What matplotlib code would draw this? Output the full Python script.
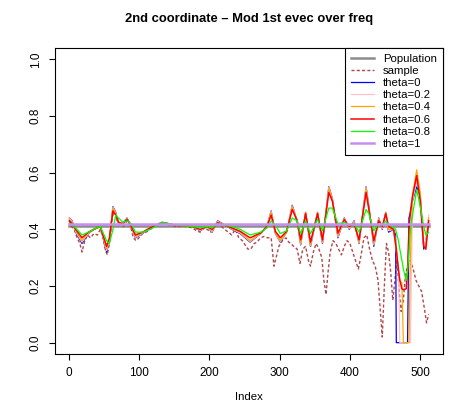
import matplotlib
matplotlib.use("Agg")
import matplotlib.pyplot as plt

plt.rcParams['font.family'] = ['Liberation Sans', 'DejaVu Sans']

# shared index grid for the theta curves
idx = [1, 5, 10, 19, 28, 36, 45, 54, 58, 63, 67, 71, 77, 83, 89, 95, 105, 116,
       125, 133, 142, 152, 164, 176, 187, 197, 204, 212, 223, 232, 244, 258,
       273, 282, 288, 294, 301, 310, 318, 325, 330, 337, 344, 354, 361, 370,
       375, 383, 392, 399, 406, 413, 423, 427, 434, 441, 446, 451, 455, 462,
       465, 466, 469, 471, 474, 476, 480, 482, 484, 486, 489, 495, 500, 505,
       508, 512]

theta0 = [0.44, 0.43, 0.39, 0.35, 0.385, 0.40, 0.41, 0.32, 0.36, 0.48, 0.46, 0.42,
          0.42, 0.44, 0.41, 0.37, 0.385, 0.405, 0.415, 0.425, 0.42, 0.414, 0.412,
          0.41, 0.395, 0.41, 0.39, 0.43, 0.414, 0.40, 0.385, 0.355, 0.385, 0.41,
          0.465, 0.385, 0.355, 0.39, 0.485, 0.43, 0.345, 0.46, 0.34, 0.46, 0.35,
          0.55, 0.51, 0.37, 0.44, 0.40, 0.43, 0.35, 0.55, 0.48, 0.34, 0.44, 0.40,
          0.46, 0.39, 0.40, 0.38, 0.0, 0.0, 0.0, 0.0, 0.0, 0.0, 0.0, 0.44, 0.46,
          0.50, 0.55, 0.52, 0.33, 0.36, 0.42]

theta02 = [0.44, 0.428, 0.392, 0.355, 0.386, 0.40, 0.41, 0.325, 0.362, 0.478, 0.458,
           0.421, 0.42, 0.438, 0.41, 0.372, 0.386, 0.405, 0.415, 0.425, 0.42, 0.414,
           0.412, 0.41, 0.396, 0.41, 0.392, 0.428, 0.414, 0.401, 0.387, 0.357, 0.385,
           0.41, 0.463, 0.386, 0.357, 0.39, 0.483, 0.43, 0.347, 0.46, 0.342, 0.46,
           0.352, 0.548, 0.508, 0.373, 0.438, 0.402, 0.428, 0.352, 0.548, 0.478,
           0.345, 0.438, 0.402, 0.46, 0.395, 0.40, 0.36, 0.33, 0.27, 0.0, 0.0, 0.0,
           0.0, 0.0, 0.0, 0.0, 0.50, 0.57, 0.52, 0.34, 0.36, 0.45]

theta04 = [0.435, 0.425, 0.395, 0.36, 0.388, 0.40, 0.41, 0.33, 0.365, 0.475, 0.455,
           0.423, 0.42, 0.437, 0.41, 0.375, 0.388, 0.405, 0.415, 0.424, 0.42, 0.414,
           0.412, 0.41, 0.398, 0.41, 0.395, 0.426, 0.414, 0.403, 0.39, 0.36, 0.386,
           0.41, 0.46, 0.388, 0.36, 0.39, 0.48, 0.43, 0.35, 0.46, 0.345, 0.46, 0.355,
           0.545, 0.505, 0.378, 0.437, 0.405, 0.425, 0.355, 0.545, 0.475, 0.35, 0.435,
           0.405, 0.46, 0.40, 0.40, 0.34, 0.32, 0.26, 0.22, 0.21, 0.0, 0.0, 0.0, 0.0,
           0.30, 0.52, 0.61, 0.53, 0.34, 0.34, 0.44]

theta06 = [0.43, 0.42, 0.40, 0.37, 0.39, 0.40, 0.41, 0.34, 0.37, 0.465, 0.45, 0.425,
           0.42, 0.435, 0.41, 0.38, 0.39, 0.405, 0.415, 0.423, 0.42, 0.414, 0.412,
           0.41, 0.40, 0.41, 0.40, 0.423, 0.414, 0.405, 0.393, 0.37, 0.387, 0.41,
           0.45, 0.393, 0.37, 0.393, 0.47, 0.43, 0.363, 0.455, 0.355, 0.455, 0.363,
           0.53, 0.50, 0.387, 0.434, 0.41, 0.42, 0.363, 0.53, 0.47, 0.36, 0.43, 0.41,
           0.455, 0.41, 0.40, 0.35, 0.33, 0.257, 0.22, 0.19, 0.187, 0.19, 0.26, 0.40,
           0.46, 0.516, 0.59, 0.50, 0.34, 0.33, 0.43]

theta08 = [0.42, 0.415, 0.405, 0.38, 0.39, 0.40, 0.41, 0.36, 0.35, 0.40, 0.45, 0.44,
           0.425, 0.43, 0.42, 0.39, 0.39, 0.40, 0.412, 0.425, 0.42, 0.415, 0.412,
           0.41, 0.405, 0.41, 0.405, 0.42, 0.414, 0.41, 0.40, 0.38, 0.39, 0.405,
           0.43, 0.415, 0.385, 0.395, 0.44, 0.43, 0.385, 0.43, 0.385, 0.435, 0.395,
           0.475, 0.475, 0.42, 0.425, 0.415, 0.42, 0.39, 0.47, 0.455, 0.395, 0.42,
           0.415, 0.43, 0.415, 0.41, 0.40, 0.39, 0.36, 0.33, 0.29, 0.26, 0.22, 0.25,
           0.32, 0.40, 0.45, 0.54, 0.48, 0.41, 0.38, 0.39]

theta1_idx = [1, 512]
theta1 = [0.418, 0.418]

pop_idx = [1, 512]
population = [0.41, 0.41]

sample_idx = [1, 4, 8, 12, 16, 19, 23, 27, 31, 36, 41, 45, 49, 52, 55, 58, 62, 65,
              69, 73, 78, 83, 88, 92, 96, 100, 105, 110, 116, 122, 128, 134, 140,
              146, 152, 160, 168, 176, 182, 187, 192, 197, 202, 207, 212, 217, 222,
              227, 232, 237, 242, 247, 251, 255, 259, 264, 268, 273, 278, 283, 288,
              292, 296, 299, 304, 309, 313, 316, 320, 325, 329, 333, 337, 341, 344,
              348, 352, 356, 360, 363, 366, 369, 372, 376, 380, 384, 388, 392, 396,
              400, 404, 408, 412, 416, 420, 424, 428, 432, 436, 440, 443, 446, 449,
              452, 455, 458, 461, 464, 467, 470, 473, 476, 479, 482, 486, 490, 494,
              498, 502, 506, 509, 512]
sample = [0.43, 0.41, 0.40, 0.37, 0.35, 0.32, 0.36, 0.38, 0.37, 0.385, 0.38, 0.40,
          0.37, 0.33, 0.31, 0.35, 0.44, 0.47, 0.43, 0.42, 0.41, 0.43, 0.41, 0.37,
          0.36, 0.37, 0.385, 0.39, 0.40, 0.41, 0.42, 0.425, 0.415, 0.415, 0.41,
          0.41, 0.41, 0.405, 0.395, 0.39, 0.405, 0.40, 0.39, 0.41, 0.42, 0.41, 0.40,
          0.39, 0.38, 0.40, 0.37, 0.36, 0.345, 0.33, 0.33, 0.35, 0.355, 0.37, 0.375,
          0.37, 0.37, 0.27, 0.31, 0.34, 0.36, 0.37, 0.355, 0.35, 0.34, 0.33, 0.28,
          0.33, 0.34, 0.29, 0.27, 0.32, 0.35, 0.33, 0.30, 0.22, 0.17, 0.25, 0.32,
          0.36, 0.35, 0.33, 0.31, 0.34, 0.36, 0.35, 0.32, 0.29, 0.26, 0.31, 0.37,
          0.38, 0.33, 0.29, 0.27, 0.22, 0.12, 0.02, 0.20, 0.35, 0.32, 0.25, 0.15,
          0.22, 0.30, 0.18, 0.11, 0.15, 0.24, 0.27, 0.29, 0.26, 0.22, 0.20, 0.18,
          0.12, 0.07, 0.10]

fig = plt.figure(figsize=(4.71, 4.15), dpi=100)
ax = fig.add_axes([55 / 471, 61 / 415, 388 / 471, 306 / 415])

ax.plot(pop_idx, population, color='#8c8c8c', lw=1.8, label='Population')
ax.plot(sample_idx, sample, color='#b0474a', lw=1.0, dashes=(2.2, 1.6), label='sample')
ax.plot(idx, theta0, color='blue', lw=0.9, label='theta=0')
ax.plot(idx, theta02, color='pink', lw=0.9, label='theta=0.2')
ax.plot(idx, theta04, color='orange', lw=0.9, label='theta=0.4')
ax.plot(idx, theta06, color='red', lw=1.1, label='theta=0.6')
ax.plot(idx, theta08, color='#00ff00', lw=0.9, label='theta=0.8')
ax.plot(theta1_idx, theta1, color='#c58ff0', lw=1.8, label='theta=1')

ax.set_xlim(-19.4, 532.4)
ax.set_ylim(-0.04, 1.04)
ax.set_xticks([0, 100, 200, 300, 400, 500])
ax.set_yticks([0.0, 0.2, 0.4, 0.6, 0.8, 1.0])
ax.set_yticklabels(['0.0', '0.2', '0.4', '0.6', '0.8', '1.0'], rotation=90, va='center')
ax.tick_params(direction='out', length=4.5, width=0.8, labelsize=8.5, pad=5)
for s in ax.spines.values():
    s.set_linewidth(0.8)

ax.set_xlabel('Index', fontsize=8.2, labelpad=9)
ax.set_title('2nd coordinate \u2013 Mod 1st evec over freq', fontsize=9.4,
             fontweight='bold', pad=19)

leg = ax.legend(loc='upper right', bbox_to_anchor=(1.0, 1.0), borderaxespad=0,
                fontsize=8.2, fancybox=False, framealpha=1, edgecolor='black',
                handlelength=2.0, labelspacing=0.18, borderpad=0.55, handletextpad=0.8)
leg.get_frame().set_linewidth(0.8)

fig.savefig('out.png', dpi=100)
